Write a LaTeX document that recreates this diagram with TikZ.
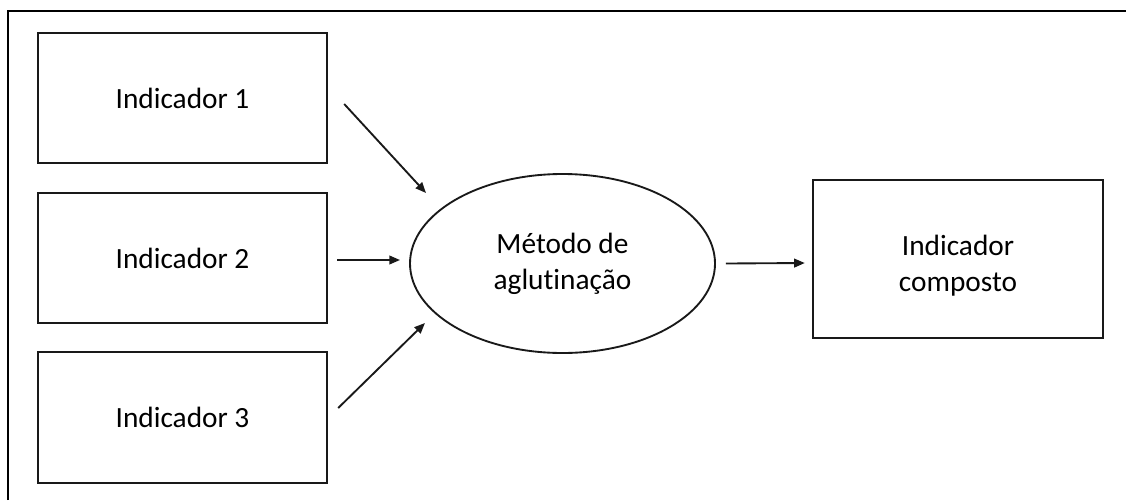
\documentclass[tikz,border=0pt]{standalone}
\usepackage{fontspec}
\setmainfont[RawFeature={-liga;-dlig;-clig}]{Carlito}
\usetikzlibrary{shapes.geometric,arrows.meta}
\begin{document}
\begin{tikzpicture}[x=0.75pt,y=-0.75pt,
  box/.style={draw=black!90,line width=1.8pt,minimum width=289*0.75pt,minimum height=130*0.75pt,inner sep=0pt,align=center,font=\fontsize{22}{27}\selectfont},
  oval/.style={draw=black!90,line width=1.4pt,ellipse,minimum width=305*0.75pt,minimum height=179*0.75pt,inner sep=0pt,align=center,font=\fontsize{22}{27}\selectfont},
  arr/.style={line width=1.4pt,draw=black!90,-{Triangle[length=8pt,width=6.5pt]}},
  frame/.style={line width=1.2pt}]
\useasboundingbox (0,0) rectangle (1126,500);
\coordinate (fa) at (8,500);
\coordinate (fb) at (8,11);
\coordinate (fc) at (1126,11);
\draw[frame] (fa) -- (fb) -- (fc);
\node[box] (b1) at (182.5,98) {Indicador 1};
\node[box] (b2) at (182.5,258) {Indicador 2};
\node[box,minimum height=131*0.75pt] (b3) at (182.5,417.5) {Indicador 3};
\node[oval] (e) at (562.5,263.5) {Método de\\aglutinação};
\node[box,minimum width=290*0.75pt,minimum height=158*0.75pt] (b4) at (958,259) {\rule{0pt}{26pt}Indicador\\composto};
\draw[arr] ([shift={(16,6)}]b1.east) -- ([shift={(-136.5,-70.5)}]e.center);
\draw[arr] ([shift={(9,2)}]b2.east) -- ([shift={(-162.5,-3.5)}]e.center);
\draw[arr] ([shift={(10,-9.5)}]b3.east) -- ([shift={(-137.5,59.5)}]e.center);
\draw[arr] ([shift={(10,0)}]e.east) -- ([shift={(-7,4)}]b4.west);
\end{tikzpicture}
\end{document}
